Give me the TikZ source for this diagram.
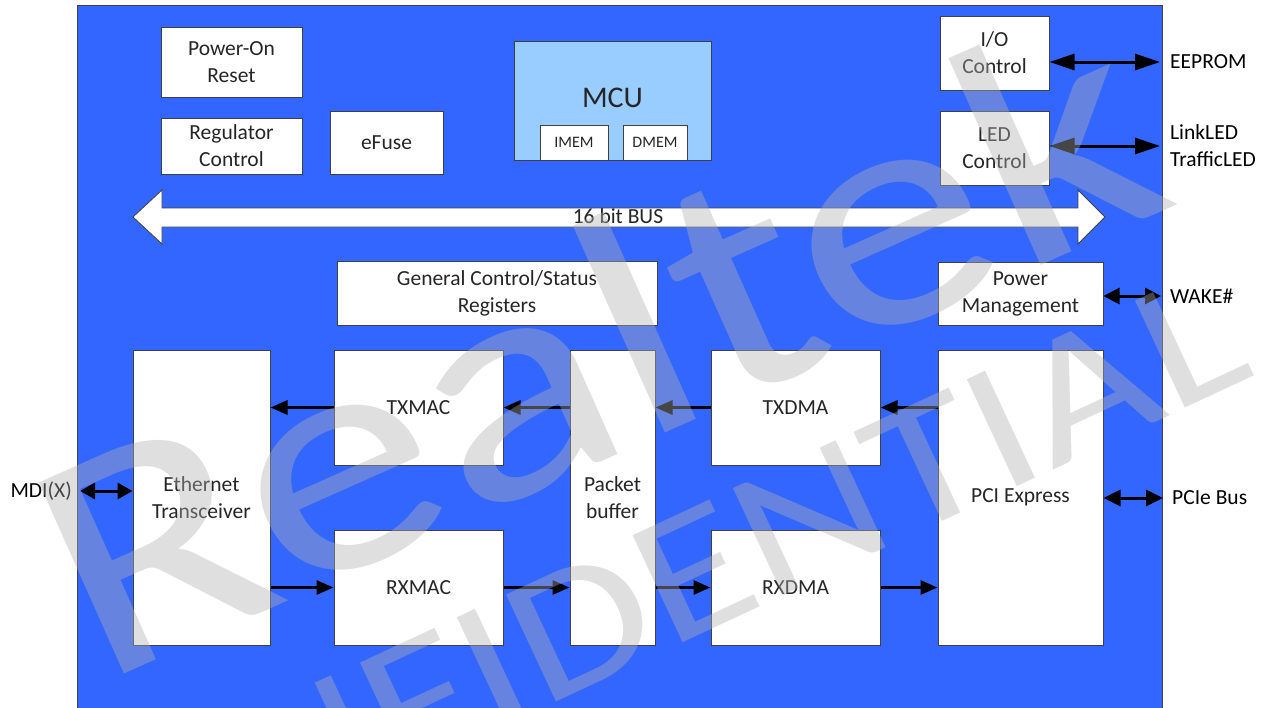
\documentclass[tikz,border=0pt]{standalone}
\usepackage{fontspec}
\setmainfont{Carlito}
\usetikzlibrary{arrows.meta}
\definecolor{bg}{HTML}{3366FF}
\definecolor{mcuc}{HTML}{99CCFF}
\definecolor{edge}{HTML}{404040}
\definecolor{txt}{HTML}{262626}
\definecolor{wm}{HTML}{B0B0B0}
\tikzset{
  blk/.style={draw=edge, line width=1pt, fill=white, inner sep=0pt, align=center, text=txt, font=\fontsize{21.5}{27}\selectfont},
  mem/.style={blk, font=\fontsize{16}{18}\selectfont},
  lbl/.style={inner sep=0pt, text=black, align=left, font=\fontsize{21.5}{27}\selectfont},
  arr/.style={line width=3pt, -{Triangle[length=17pt,width=14pt]}},
  darr/.style={line width=3pt, {Triangle[length=#1,width=16pt]}-{Triangle[length=#1,width=16pt]}},
  wmtext/.style={inner sep=0pt, text=wm, text opacity=0.4},
}
\begin{document}
\begin{tikzpicture}[x=1pt,y=-1pt]
\useasboundingbox (0,0) rectangle (1272,707);
\fill[white] (0,0) rectangle (1272,707);
% chip outline
\draw[edge, fill=bg, line width=1pt] (77,5) rectangle (1162,720);

% top blocks
\node[blk, minimum width=141, minimum height=70] (por) at (231.5,62) {Power-On\\Reset};
\node[blk, minimum width=141, minimum height=56] (reg) at (231.5,146) {Regulator\\Control};
\node[blk, minimum width=113, minimum height=63] (efuse) at (386.5,142.5) {eFuse};
\node[blk, fill=mcuc, minimum width=197, minimum height=119] (mcu) at (612.5,100.5) {};
\node[inner sep=0pt, text=txt, font=\fontsize{30}{32}\selectfont] (mcutext) at (612.5,98) {MCU};
\node[mem, minimum width=68, minimum height=35] (imem) at (574,142.5) {IMEM};
\node[mem, minimum width=64, minimum height=35] (dmem) at (655,142.5) {DMEM};
\node[blk, minimum width=109, minimum height=74] (io) at (994.5,53) {I/O\\Control};
\node[blk, minimum width=109, minimum height=74] (led) at (994.5,148) {LED\\Control};

% 16 bit bus
\draw[edge, fill=white, line width=0.8pt]
  (133,217) -- (162,190) -- (162,208) -- (1078,208) -- (1078,190) -- (1105,217)
  -- (1078,244) -- (1078,227) -- (162,227) -- (162,244) -- cycle;
\node[inner sep=0pt, text=txt, font=\fontsize{21.5}{27}\selectfont] (bus) at (618,216) {16 bit BUS};

% middle blocks
\node[blk, minimum width=320, minimum height=64] (gcsr) at (497,293) {General Control/Status\\Registers};
\node[blk, minimum width=165, minimum height=63] (pm) at (1020.5,293.5) {Power\\Management};

% datapath blocks
\node[blk, minimum width=137, minimum height=295] (eth) at (201.5,497.5) {Ethernet\\Transceiver};
\node[blk, minimum width=169, minimum height=115] (txmac) at (418.5,407.5) {TXMAC};
\node[blk, minimum width=169, minimum height=115] (rxmac) at (418.5,587.5) {RXMAC};
\node[blk, minimum width=85, minimum height=295] (pb) at (612.5,497.5) {Packet\\buffer};
\node[blk, minimum width=169, minimum height=115] (txdma) at (795.5,407.5) {TXDMA};
\node[blk, minimum width=169, minimum height=115] (rxdma) at (795.5,587.5) {RXDMA};
\node[blk, minimum width=165, minimum height=295] (pcie) at (1020.5,497.5) {PCI Express};

% external labels
\node[lbl, anchor=east] (mdi) at (72,491) {MDI(X)};
\node[lbl, anchor=west] (eeprom) at (1170,62) {EEPROM};
\node[lbl, anchor=west] (ledlbl) at (1170,146) {LinkLED\\TrafficLED};
\node[lbl, anchor=west] (wake) at (1170,296) {WAKE\#};
\node[lbl, anchor=west] (pciebus) at (1172,498) {PCIe Bus};

% TX path
\draw[arr] (pcie.west |- txdma.east) -- (txdma.east);
\draw[arr] (txdma.west) -- (pb.east |- txdma.west);
\draw[arr] (pb.west |- txmac.east) -- (txmac.east);
\draw[arr] (txmac.west) -- (eth.east |- txmac.west);
% RX path
\draw[arr] (eth.east |- rxmac.west) -- (rxmac.west);
\draw[arr] (rxmac.east) -- (pb.west |- rxmac.east);
\draw[arr] (pb.east |- rxdma.west) -- (rxdma.west);
\draw[arr] (rxdma.east) -- (pcie.west |- rxdma.east);

% external connections
\draw[darr=15pt] ([xshift=8pt]mdi.east) -- (eth.west |- mdi.east);
\draw[darr=25pt] (eeprom.west -| io.east) -- ([xshift=-10pt]eeprom.west);
\draw[darr=25pt] (ledlbl.west -| led.east) -- ([xshift=-10pt]ledlbl.west);
\draw[darr=16pt] (wake.west -| pm.east) -- ([xshift=-9pt]wake.west);
\draw[darr=17pt] (pciebus.west -| pcie.east) -- ([xshift=-9pt]pciebus.west);

% watermark
\node[wmtext, anchor=base, rotate=24] (wm1) at (640,444)
  {\scalebox{1.21}[1]{\fontsize{326}{326}\selectfont Realtek}};
\node[wmtext, anchor=base, rotate=25] (wm2) at (639,663)
  {\scalebox{1.23}[1]{\fontsize{184}{184}\selectfont CONFIDENTIAL}};
\end{tikzpicture}
\end{document}
